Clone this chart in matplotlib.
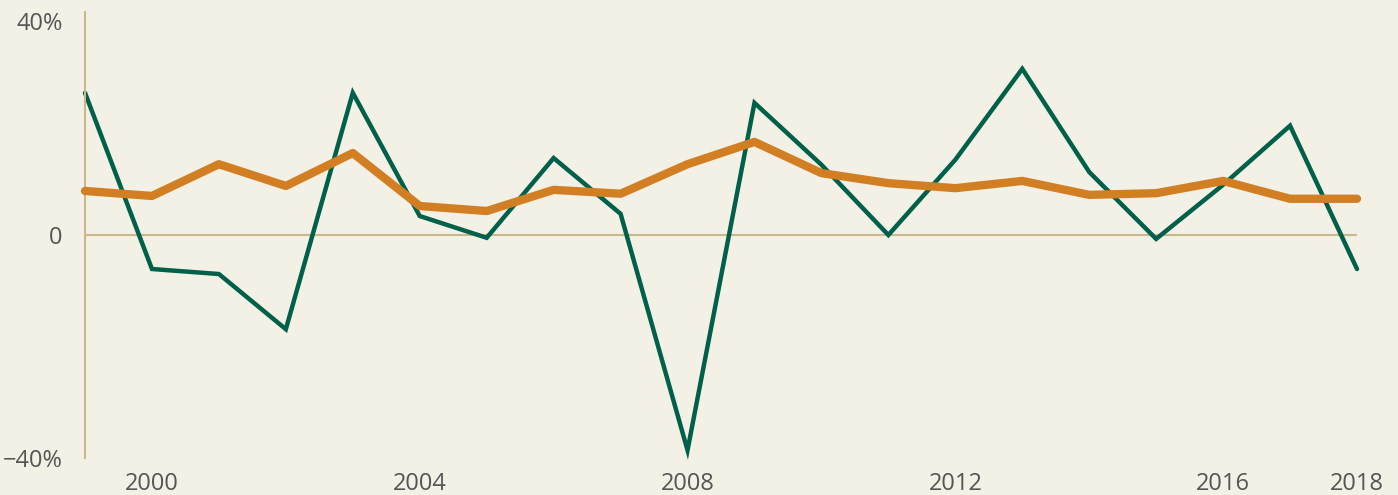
import matplotlib.pyplot as plt
from matplotlib.ticker import FuncFormatter

years = list(range(1999, 2019))
green_vals = [25.5, -6.1, -7.0, -16.9, 25.5, 3.4, -0.5, 13.8, 3.8, -38.6,
              23.7, 12.6, 0.0, 13.5, 29.8, 11.3, -0.7, 9.0, 19.6, -6.1]
orange_vals = [7.9, 7.0, 12.7, 8.8, 14.7, 5.2, 4.3, 8.1, 7.4, 12.7,
               16.7, 11.1, 9.3, 8.4, 9.7, 7.2, 7.5, 9.7, 6.5, 6.5]
xticks = [2000, 2004, 2008, 2012, 2016, 2018]
yticks = [-40, 0, 40]

bg = '#f3f1e5'
tan = '#c9b98a'
txt = '#555555'

plt.rcParams['font.family'] = ['Open Sans', 'DejaVu Sans']

W, H = 1398, 495
fig = plt.figure(figsize=(W / 100, H / 100), dpi=100, facecolor=bg)
ax = fig.add_axes([85 / W, (H - 458) / H, (1357 - 85) / W, (458 - 12) / H])
ax.set_facecolor(bg)

ax.axhline(0, color=tan, lw=1.5, zorder=1)
ax.plot(years, green_vals, color='#006049', lw=3.2, solid_capstyle='round',
        solid_joinstyle='miter', zorder=2, clip_on=False)
ax.plot(years, orange_vals, color='#d27f24', lw=6, solid_capstyle='round',
        solid_joinstyle='round', zorder=3, clip_on=False)

ax.set_xlim(1999, 2018)
ax.set_ylim(-40, 40)
ax.set_xticks(xticks)
ax.set_yticks(yticks)
ax.yaxis.set_major_formatter(FuncFormatter(lambda v, p: '0' if v == 0 else f'{v:.0f}%'.replace('-', '\u2212')))

for s in ['top', 'right', 'bottom']:
    ax.spines[s].set_visible(False)
ax.spines['left'].set_color(tan)
ax.spines['left'].set_linewidth(1.5)

ax.tick_params(axis='both', length=0, labelsize=17, labelcolor=txt)
ax.tick_params(axis='x', pad=10)
ax.tick_params(axis='y', pad=16)
for lbl in ax.get_yticklabels():
    if lbl.get_text() == '40%':
        lbl.set_va('top')

fig.savefig('out.png', dpi=100, facecolor=bg)
